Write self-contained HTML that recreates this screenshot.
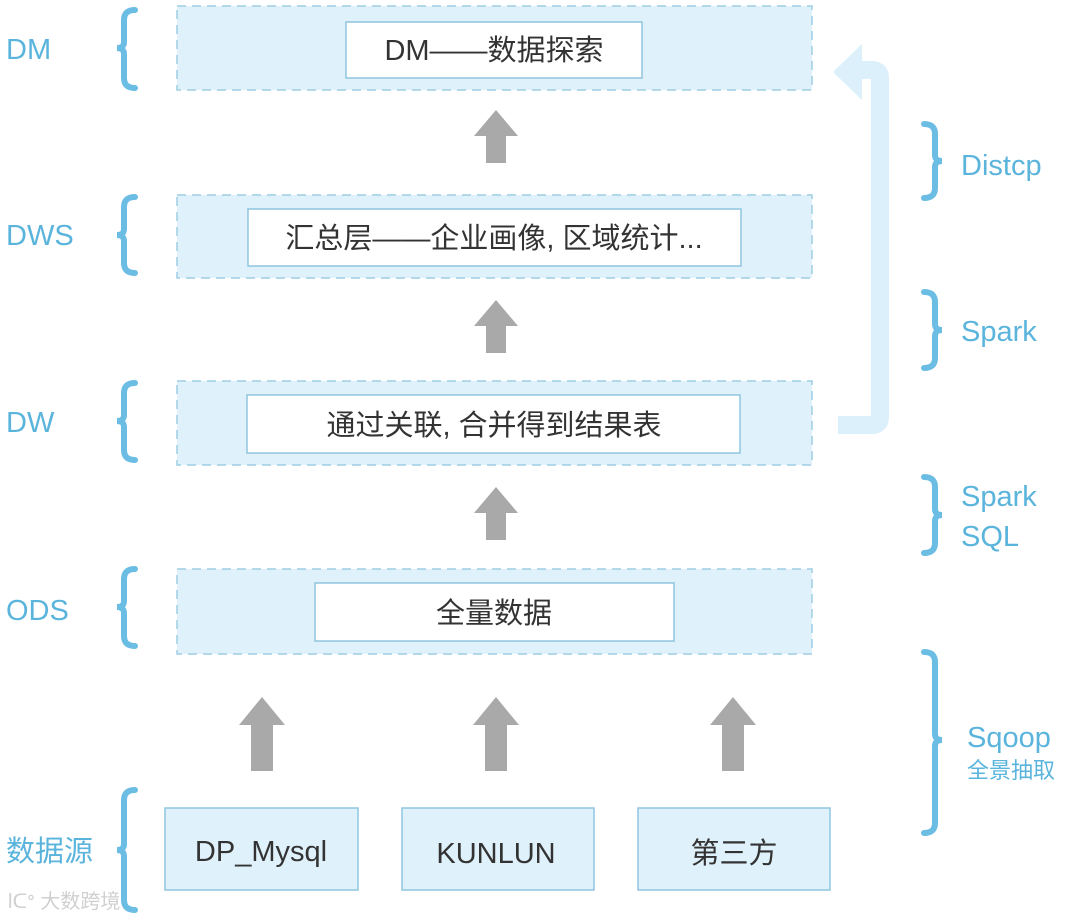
<!DOCTYPE html>
<html><head><meta charset="utf-8"><style>
html,body{margin:0;padding:0;background:#fff;}
svg{display:block}
text{font-family:"Liberation Sans","Noto Sans CJK SC",sans-serif;}
</style></head><body>
<svg width="1080" height="919" viewBox="0 0 1080 919" xmlns="http://www.w3.org/2000/svg">
<defs>
<g id="ar"><path d="M0,0 L22,26 L10,26 L10,53 L-10,53 L-10,26 L-22,26 Z" fill="#a9a9a9"/></g>
<g id="ar2"><path d="M0,0 L23,28 L11,28 L11,74 L-11,74 L-11,28 L-23,28 Z" fill="#a9a9a9"/></g>
</defs>
<!-- big return arrow -->
<path d="M838,425 L872,425 Q880,425 880,417 L880,78 Q880,70 872,70 L858,70" fill="none" stroke="#dcf0fb" stroke-width="18"/>
<path d="M833,72 L862,44 L862,100 Z" fill="#dcf0fb"/>
<!-- layers -->
<g fill="#dff1fb" stroke="#9fcde3" stroke-width="1.5" stroke-dasharray="9,6">
<rect x="177" y="6" width="635" height="84"/>
<rect x="177" y="195" width="635" height="83"/>
<rect x="177" y="381" width="635" height="84"/>
<rect x="177" y="569" width="635" height="85"/>
</g>
<g fill="#fff" stroke="#8fc6e0" stroke-width="1.5">
<rect x="346" y="22" width="296" height="56"/>
<rect x="248" y="209" width="493" height="57"/>
<rect x="247" y="395" width="493" height="58"/>
<rect x="315" y="583" width="359" height="58"/>
</g>
<g fill="#dff1fb" stroke="#8fc6e0" stroke-width="1.5">
<rect x="165" y="808" width="193" height="82"/>
<rect x="402" y="808" width="192" height="82"/>
<rect x="638" y="808" width="192" height="82"/>
</g>
<g fill="#333" font-size="29" text-anchor="middle">
<text x="494" y="60">DM——数据探索</text>
<text x="494" y="248">汇总层——企业画像, 区域统计...</text>
<text x="494" y="435">通过关联, 合并得到结果表</text>
<text x="494" y="623">全量数据</text>
<text x="261" y="861">DP_Mysql</text>
<text x="496" y="863">KUNLUN</text>
<text x="734" y="863">第三方</text>
</g>
<use href="#ar" x="496" y="110"/>
<use href="#ar" x="496" y="300"/>
<use href="#ar" x="496" y="487"/>
<use href="#ar2" x="262" y="697"/>
<use href="#ar2" x="496" y="697"/>
<use href="#ar2" x="733" y="697"/>
<!-- braces -->
<g fill="none" stroke="#6cbde4" stroke-width="6" stroke-linecap="round">
<path d="M135,10 Q124,10 124,20 L124,42 Q124,48 117,48 Q124,48 124,54 L124,78 Q124,88 135,88"/>
<path d="M135,197 Q124,197 124,207 L124,229 Q124,235 117,235 Q124,235 124,241 L124,263 Q124,273 135,273"/>
<path d="M135,383 Q124,383 124,393 L124,415 Q124,421 117,421 Q124,421 124,427 L124,450 Q124,460 135,460"/>
<path d="M135,569 Q124,569 124,579 L124,601 Q124,607 117,607 Q124,607 124,613 L124,636 Q124,646 135,646"/>
<path d="M135,790 Q124,790 124,800 L124,844 Q124,850 117,850 Q124,850 124,856 L124,900 Q124,910 135,910"/>
<path d="M924,124 Q935,124 935,134 L935,155 Q935,161 942,161 Q935,161 935,167 L935,188 Q935,198 924,198"/>
<path d="M924,292 Q935,292 935,302 L935,324 Q935,330 942,330 Q935,330 935,336 L935,358 Q935,368 924,368"/>
<path d="M924,477 Q935,477 935,487 L935,509 Q935,515 942,515 Q935,515 935,521 L935,543 Q935,553 924,553"/>
<path d="M924,652 Q935,652 935,662 L935,734 Q935,740 942,740 Q935,740 935,746 L935,823 Q935,833 924,833"/>
</g>
<g fill="#5ab4dc" font-size="29">
<text x="6" y="59">DM</text>
<text x="6" y="245">DWS</text>
<text x="6" y="432">DW</text>
<text x="6" y="620">ODS</text>
<text x="6" y="861">数据源</text>
<text x="961" y="175">Distcp</text>
<text x="961" y="341">Spark</text>
<text x="961" y="506">Spark</text>
<text x="961" y="546">SQL</text>
<text x="967" y="747">Sqoop</text>
<text x="967" y="778" font-size="22">全景抽取</text>
</g>
<text x="8" y="908" fill="#d0d0d0" font-size="20">lᑕᐤ 大数跨境</text>
</svg>
</body></html>
